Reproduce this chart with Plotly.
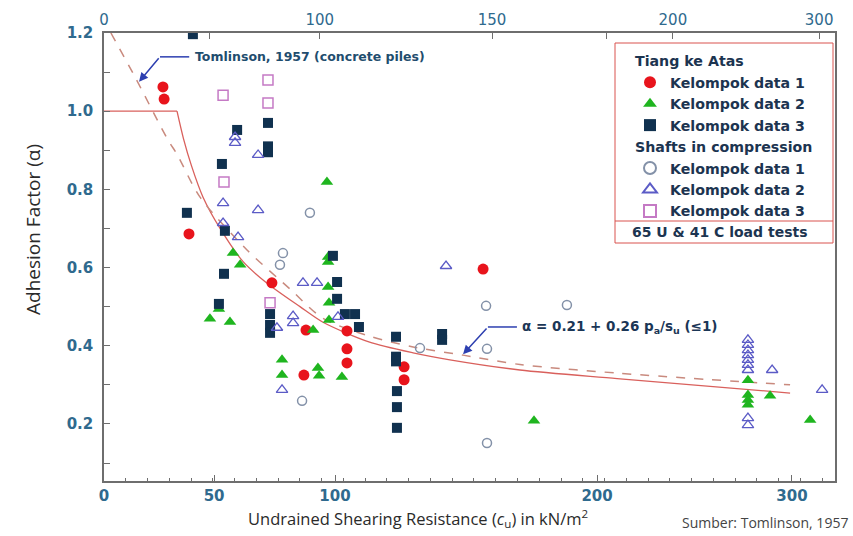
import plotly.graph_objects as go

# ---------------- data (x in bottom-axis chart units, y = adhesion factor) ----------------
# Tiang ke Atas
red_x = [25.6, 26.1, 36.9, 72.9, 87.7, 86.8, 105.5, 105.5, 105.5, 130.3, 130.3, 164.6]
red_y = [1.062, 1.031, 0.686, 0.561, 0.44, 0.325, 0.438, 0.392, 0.356, 0.346, 0.313, 0.596]

green_x = [56.0, 59.1, 49.9, 46.0, 54.7, 77.3, 77.3, 92.9, 93.4, 90.8, 96.8, 97.3, 97.3, 97.3,
           97.7, 97.7, 103.3, 186.7, 279.6, 279.6, 279.6, 279.6, 289.2, 306.6]
green_y = [0.637, 0.607, 0.494, 0.469, 0.461, 0.364, 0.325, 0.343, 0.323, 0.44, 0.819, 0.627, 0.614, 0.55,
           0.51, 0.466, 0.32, 0.208, 0.312, 0.274, 0.261, 0.249, 0.272, 0.21]

navy_x = [38.6, 36.0, 51.2, 57.8, 71.2, 71.2, 71.2, 52.5, 52.1, 49.9, 72.1, 72.1, 72.1,
          99.4, 101.2, 101.2, 104.6, 109.0, 110.7, 126.8, 126.8, 126.8, 127.2, 127.2, 127.2, 146.8, 146.8]
navy_y = [1.197, 0.74, 0.865, 0.952, 0.97, 0.91, 0.895, 0.694, 0.584, 0.507, 0.481, 0.453, 0.433,
          0.63, 0.563, 0.52, 0.481, 0.481, 0.448, 0.423, 0.372, 0.36, 0.284, 0.243, 0.19, 0.43, 0.415]

# Shafts in compression
ocirc_x = [77.7, 76.4, 89.4, 86.0, 137.2, 165.9, 166.3, 166.3, 201.0]
ocirc_y = [0.637, 0.607, 0.74, 0.259, 0.394, 0.502, 0.392, 0.151, 0.504]

otri_x = [56.9, 56.9, 66.9, 51.7, 66.9, 51.7, 58.2, 82.1, 82.1, 75.1, 86.4, 92.5, 101.6, 77.3, 148.5,
          279.6, 279.6, 279.6, 279.6, 279.6, 279.6, 279.6, 279.6, 279.6, 290.1, 311.8]
otri_y = [0.934, 0.919, 0.888, 0.765, 0.747, 0.714, 0.678, 0.476, 0.458, 0.446, 0.561, 0.561, 0.474, 0.287, 0.604,
          0.415, 0.402, 0.389, 0.376, 0.364, 0.351, 0.338, 0.215, 0.197, 0.338, 0.287]

osq_x = [51.7, 71.2, 71.2, 52.1, 72.1]
osq_y = [1.041, 1.08, 1.021, 0.819, 0.51]

# Tomlinson (1957) concrete piles - dashed
dash_x = [3.0, 13.5, 27.8, 31.7, 41.7, 62.1, 80.8, 95.1, 115.0, 134.2, 155.9, 180.6, 222.8, 297.9]
dash_y = [1.2, 1.087, 0.926, 0.89, 0.78, 0.645, 0.545, 0.47, 0.425, 0.397, 0.376, 0.352, 0.330, 0.30]

# alpha = 0.21 + 0.26 pa/su (<=1) - solid: flat part and curved part
flat_x = [0.0, 31.7]
flat_y = [1.0, 1.0]
sol_x = [31.7, 34.5, 38.0, 43.0, 50.4, 60.4, 70.8, 85.1, 95.1, 115.0, 134.2, 150.2, 180.6, 222.8, 297.9]
sol_y = [1.0, 0.93, 0.86, 0.78, 0.70, 0.615, 0.56, 0.50, 0.46, 0.41, 0.382, 0.364, 0.338, 0.316, 0.279]

# axis ticks
bottom_tickvals = [0, 47.8, 100.3, 214.1, 298.7]
bottom_ticktext = ["0", "50", "100", "200", "300"]
top_tickvals = [0, 93.7, 168.5, 247.0, 310.5]
top_ticktext = ["0", "100", "150", "200", "300"]
top_minor_ticks = [45.6, 218.4]
y_tickvals = [0.2, 0.4, 0.6, 0.8, 1.0, 1.2]
y_ticktext = ["0.2", "0.4", "0.6", "0.8", "1.0", "1.2"]

X_RANGE = [0, 317.4]
Y_RANGE = [0.054, 1.2]

TICK_COLOR = "#2f6a8e"
AXIS_COLOR = "#6e6e6e"
LEG_TXT = "#1c3450"
LINE_RED = "#d9605c"

fig = go.Figure()

fig.add_trace(go.Scatter(x=flat_x, y=flat_y, mode="lines", line=dict(color=LINE_RED, width=1.3),
                         showlegend=False, hoverinfo="skip"))
fig.add_trace(go.Scatter(x=sol_x, y=sol_y, mode="lines", line=dict(color=LINE_RED, width=1.3, shape="spline", smoothing=0.8),
                         showlegend=False, hoverinfo="skip"))
fig.add_trace(go.Scatter(x=dash_x, y=dash_y, mode="lines",
                         line=dict(color="#c98a7e", width=1.5, dash="dash", shape="spline", smoothing=0.8),
                         showlegend=False, hoverinfo="skip"))

LEG_FONT = 14.2

def add_pts(x, y, name, group, gtitle, marker):
    fig.add_trace(go.Scatter(x=x, y=y, mode="markers", name=name, marker=marker,
                             legendgroup=group,
                             legendgrouptitle=dict(text=gtitle, font=dict(size=LEG_FONT, color=LEG_TXT,
                                                                          family="DejaVu Sans", weight="bold"))))

add_pts(red_x, red_y, "Kelompok data 1", "a", "Tiang ke Atas",
        dict(symbol="circle", size=11, color="#e8141c"))
add_pts(green_x, green_y, "Kelompok data 2", "a", "Tiang ke Atas",
        dict(symbol="triangle-up", size=11, color="#1fb51f"))
add_pts(navy_x, navy_y, "Kelompok data 3", "a", "Tiang ke Atas",
        dict(symbol="square", size=10, color="#10314f"))
add_pts(ocirc_x, ocirc_y, "Kelompok data 1", "b", "Shafts in compression",
        dict(symbol="circle-open", size=9, color="#8391a8", line=dict(width=1.5)))
add_pts(otri_x, otri_y, "Kelompok data 2", "b", "Shafts in compression",
        dict(symbol="triangle-up-open", size=10, color="#5b5bc6", line=dict(width=1.3)))
add_pts(osq_x, osq_y, "Kelompok data 3", "b", "Shafts in compression",
        dict(symbol="square-open", size=10, color="#c57ac5", line=dict(width=1.5)))

# empty trace so the top axis is drawn
fig.add_trace(go.Scatter(x=[None], y=[None], xaxis="x2", showlegend=False, hoverinfo="skip"))

fig.update_layout(
    width=853, height=536,
    margin=dict(l=104, r=18, t=33, b=55),
    paper_bgcolor="white", plot_bgcolor="white",
    font=dict(family="DejaVu Sans", color="#333333"),
    xaxis=dict(range=X_RANGE, showgrid=False, zeroline=False, showline=True, linecolor=AXIS_COLOR, linewidth=1.5,
               ticks="inside", ticklen=6, tickcolor=AXIS_COLOR, tickwidth=1.2,
               tickmode="array", tickvals=bottom_tickvals, ticktext=bottom_ticktext,
               tickfont=dict(family="DejaVu Sans", size=15, color=TICK_COLOR, weight="bold"),
               minor=dict(ticks="inside", ticklen=3, tick0=0, dtick=9.45, tickcolor=AXIS_COLOR)),
    xaxis2=dict(range=X_RANGE, overlaying="x", side="top", showgrid=False, zeroline=False, showline=True,
                linecolor=AXIS_COLOR, linewidth=1.5, ticks="inside", ticklen=6, tickcolor=AXIS_COLOR,
                tickmode="array", tickvals=top_tickvals, ticktext=top_ticktext,
                tickfont=dict(family="DejaVu Sans", size=15, color=TICK_COLOR),
                minor=dict(ticks="inside", ticklen=6, tickmode="array", tickvals=top_minor_ticks,
                           tickcolor=AXIS_COLOR)),
    yaxis=dict(range=Y_RANGE, showgrid=False, zeroline=False, showline=True, mirror=True, linecolor=AXIS_COLOR,
               linewidth=1.5, ticks="inside", ticklen=6, tickcolor=AXIS_COLOR, tickwidth=1.2,
               tickmode="array", tickvals=y_tickvals, ticktext=y_ticktext, ticklabelstandoff=6,
               tickfont=dict(family="DejaVu Sans", size=15, color=TICK_COLOR, weight="bold"),
               minor=dict(ticks="inside", ticklen=6, tick0=0.1, dtick=0.2, tickcolor=AXIS_COLOR)),
    legend=dict(x=(630 - 104) / 731, y=1 - (45 - 33) / 448, xanchor="left", yanchor="top",
                bgcolor="rgba(0,0,0,0)", borderwidth=0, tracegroupgap=0, traceorder="grouped",
                font=dict(family="DejaVu Sans", size=LEG_FONT, color=LEG_TXT, weight="bold"),
                itemsizing="constant"),
)

def px_x(p):
    return (p - 104) / 731

def px_y(p):
    return 1 - (p - 33) / 448

# legend frame
fig.add_shape(type="rect", xref="paper", yref="paper", x0=px_x(615), x1=px_x(833), y0=px_y(243), y1=px_y(43),
              line=dict(color="#d9534f", width=1))
fig.add_shape(type="line", xref="paper", yref="paper", x0=px_x(615), x1=px_x(833), y0=px_y(221), y1=px_y(221),
              line=dict(color="#d9534f", width=1))
fig.add_annotation(xref="paper", yref="paper", x=px_x(630), y=px_y(232), xanchor="left", yanchor="middle",
                   text="<b>65 U & 41 C load tests</b>", showarrow=False,
                   font=dict(family="DejaVu Sans", size=14, color=LEG_TXT))

ARROW = "#2d3fb0"
# Tomlinson annotation
fig.add_annotation(x=15.2, y=1.075, ax=24.3, ay=1.139, axref="x", ayref="y", xref="x", yref="y",
                   text="", showarrow=True, arrowhead=2, arrowsize=1.2, arrowwidth=1.5, arrowcolor=ARROW, standoff=0)
fig.add_shape(type="line", xref="x", yref="y", x0=24.3, x1=37.0, y0=1.139, y1=1.139, line=dict(color=ARROW, width=1.5))
fig.add_annotation(x=38.6, y=1.139, xref="x", yref="y", xanchor="left", yanchor="middle", showarrow=False,
                   text="<b>Tomlinson, 1957 (concrete piles)</b>",
                   font=dict(family="DejaVu Sans", size=12.5, color="#1f4d6e"))

# alpha formula annotation
fig.add_annotation(x=155.9, y=0.378, ax=166.7, ay=0.448, axref="x", ayref="y", xref="x", yref="y",
                   text="", showarrow=True, arrowhead=2, arrowsize=1.2, arrowwidth=1.5, arrowcolor=ARROW, standoff=0)
fig.add_shape(type="line", xref="x", yref="y", x0=166.7, x1=179.3, y0=0.448, y1=0.448, line=dict(color=ARROW, width=1.5))
fig.add_annotation(x=180.6, y=0.448, xref="x", yref="y", xanchor="left", yanchor="middle", showarrow=False,
                   text="<b>α = 0.21 + 0.26 p<sub>a</sub>/s<sub>u</sub> (≤1)</b>",
                   font=dict(family="DejaVu Sans", size=13.5, color="#1b3656"))

# axis titles
fig.add_annotation(xref="paper", yref="paper", x=px_x(33), y=px_y(230), text="Adhesion Factor (α)", textangle=-90,
                   showarrow=False, xanchor="center", yanchor="middle",
                   font=dict(family="Open Sans", size=19, color="#2a2a2a"))
fig.add_annotation(xref="paper", yref="paper", x=px_x(418), y=px_y(518),
                   text="Undrained Shearing Resistance (<i>c</i><sub>u</sub>) in kN/m<sup>2</sup>",
                   showarrow=False, xanchor="center", yanchor="middle",
                   font=dict(family="Open Sans", size=16.5, color="#2a2a2a"))
fig.add_annotation(xref="paper", yref="paper", x=px_x(850), y=px_y(522), text="Sumber: Tomlinson, 1957",
                   showarrow=False, xanchor="right", yanchor="middle",
                   font=dict(family="Open Sans", size=14, color="#444444"))

fig.write_html("out.html")
